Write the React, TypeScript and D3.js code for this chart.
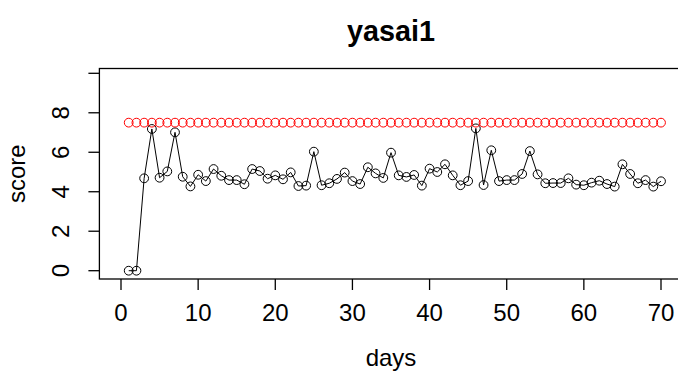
import React from "react";
import * as d3 from "d3";

const days: number[] = Array.from({ length: 70 }, (_, i) => i + 1);
const scores: number[] = [
  0, 0, 4.68, 7.18, 4.71, 5.03, 7.01, 4.76, 4.27, 4.86,
  4.54, 5.15, 4.81, 4.59, 4.59, 4.38, 5.15, 5.05, 4.66, 4.83,
  4.63, 4.98, 4.29, 4.31, 6.03, 4.33, 4.43, 4.65, 4.97, 4.54,
  4.39, 5.24, 4.93, 4.7, 5.98, 4.83, 4.75, 4.85, 4.31, 5.17,
  5.0, 5.39, 4.83, 4.33, 4.54, 7.21, 4.34, 6.1, 4.54, 4.59,
  4.59, 4.9, 6.06, 4.88, 4.43, 4.44, 4.44, 4.68, 4.36, 4.33,
  4.46, 4.56, 4.39, 4.26, 5.39, 4.9, 4.43, 4.59, 4.26, 4.53,
];
const target: number[] = days.map(() => 7.5);
const xTicks: number[] = [0, 10, 20, 30, 40, 50, 60, 70];
const yTicks: number[] = [0, 2, 4, 6, 8, 10];
const yLabels: string[] = ["0", "2", "4", "6", "8", ""];
const title = "yasai1";
const xLabel = "days";
const yLabel = "score";

const W = 678;
const H = 376;
const FONT = "'Liberation Sans', Arial, Helvetica, sans-serif";

export default function App() {
  const x = d3.scaleLinear().domain([-2.8, 72.8]).range([99.4, 682.6]);
  const y = d3.scaleLinear().domain([0, 10]).range([270.7, 73.3]);
  const top = 68.5;
  const bottom = 279;
  const left = x(-2.8);
  const right = x(72.8);
  const line = d3
    .line<number>()
    .x((_, i) => x(days[i]))
    .y((d) => y(d));
  const r = 4.4;
  return (
    <svg
      width={W}
      height={H}
      style={{ position: "absolute", left: 0, top: 0, background: "#fff" }}
      fontFamily={FONT}
    >
      <rect x={0} y={0} width={W} height={H} fill="#fff" />
      <text x={(left + right) / 2} y={41} fontSize={28.8} fontWeight="bold" textAnchor="middle">
        {title}
      </text>
      <rect x={left} y={top} width={right - left} height={bottom - top} fill="none" stroke="#000" strokeWidth={1.3} />
      {xTicks.map((t) => (
        <g key={"x" + t}>
          <line x1={x(t)} x2={x(t)} y1={bottom} y2={bottom + 11} stroke="#000" strokeWidth={1.3} />
          <text x={x(t)} y={320.7} fontSize={24} textAnchor="middle">
            {t}
          </text>
        </g>
      ))}
      {yTicks.map((t, i) => (
        <g key={"y" + t}>
          <line x1={left - 11} x2={left} y1={y(t)} y2={y(t)} stroke="#000" strokeWidth={1.3} />
          <text
            transform={`translate(68.5,${y(t)}) rotate(-90)`}
            fontSize={24}
            textAnchor="middle"
          >
            {yLabels[i]}
          </text>
        </g>
      ))}
      <text x={(left + right) / 2} y={366} fontSize={24} textAnchor="middle">
        {xLabel}
      </text>
      <text transform={`translate(25,${(top + bottom) / 2}) rotate(-90)`} fontSize={24} textAnchor="middle">
        {yLabel}
      </text>
      <path d={line(scores) || ""} fill="none" stroke="#000" strokeWidth={1} />
      {scores.map((v, i) => (
        <circle key={"s" + i} cx={x(days[i])} cy={y(v)} r={r} fill="none" stroke="#000" strokeWidth={1} />
      ))}
      {target.map((v, i) => (
        <circle key={"t" + i} cx={x(days[i])} cy={y(v)} r={r} fill="none" stroke="#ff0000" strokeWidth={1} />
      ))}
    </svg>
  );
}
